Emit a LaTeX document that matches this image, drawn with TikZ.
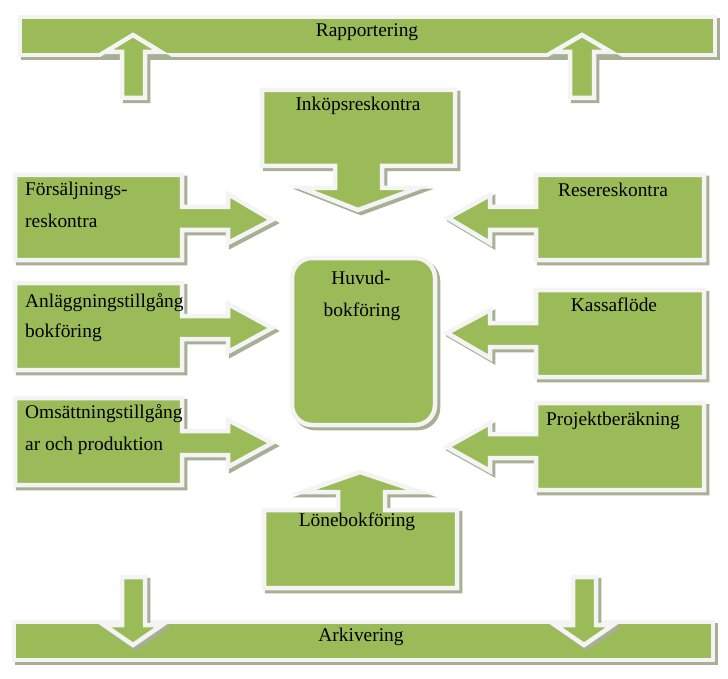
\documentclass[tikz,border=0pt]{standalone}
\usepackage{fontspec}
\setmainfont{Liberation Serif}
\definecolor{grn}{RGB}{155,187,89}
\definecolor{shadowgray}{RGB}{168,175,148}
\definecolor{edgewhite}{RGB}{244,244,244}
\newcommand\gshape[2][]{\path[shdw,#1] #2; \path[shp,#1] #2;}
\begin{document}
\begin{tikzpicture}[x=1pt,y=-1pt,
 shp/.style={fill=grn,draw=edgewhite,line width=4.5pt,line join=miter,miter limit=10},
 shdw/.style={fill=shadowgray,draw=shadowgray,line width=4.5pt,line join=miter,miter limit=10,shift={(3,3)}},
 lbl/.style={font=\fontsize{19.4}{23}\selectfont,inner sep=0pt,text=black,yshift=-3.5pt}]
\useasboundingbox[fill=white] (0,0) rectangle (728,679);

% top bar and up arrows
\gshape{(20,17) rectangle (715,55)}
\gshape{(122,98) -- (122,52) -- (105,52) -- (133,35) -- (161,52) -- (145,52) -- (145,98) -- cycle}
\gshape{(570,98) -- (570,52) -- (553,52) -- (582,35) -- (611,52) -- (594,52) -- (594,98) -- cycle}
\node[lbl,anchor=mid] (rap) at (367,31) {Rapportering};

% Inköpsreskontra
\gshape{(262,90) -- (455,90) -- (455,166) -- (382,166) -- (382,188) -- (418,188) -- (358,210) -- (302,188) -- (335,188) -- (335,166) -- (262,166) -- cycle}
\node[lbl,anchor=mid] (ink) at (358,105) {Inköpsreskontra};

% left callouts
\gshape{(15,175) -- (182,175) -- (182,207) -- (228,207) -- (228,194) -- (272,220) -- (228,243) -- (228,230) -- (182,230) -- (182,260) -- (15,260) -- cycle}
\node[lbl,anchor=mid west] (fors1) at (25,190) {Försäljnings-};
\node[lbl,anchor=mid west] (fors2) at (25,222) {reskontra};

\gshape{(15,283) -- (182,283) -- (182,316) -- (228,316) -- (228,304) -- (272,328) -- (228,352) -- (228,339) -- (182,339) -- (182,370) -- (15,370) -- cycle}
\node[lbl,anchor=mid west] (anl1) at (25,302) {Anläggningstillgång};
\node[lbl,anchor=mid west] (anl2) at (25,332) {bokföring};

\gshape{(15,398) -- (182,398) -- (182,431) -- (228,431) -- (228,420) -- (272,443) -- (228,467) -- (228,455) -- (182,455) -- (182,485) -- (15,485) -- cycle}
\node[lbl,anchor=mid west] (oms1) at (25,413) {Omsättningstillgång};
\node[lbl,anchor=mid west] (oms2) at (25,445) {ar och produktion};

% right callouts
\gshape{(704,175) -- (536,175) -- (536,207) -- (490,207) -- (490,195) -- (448,218) -- (490,243) -- (490,230) -- (536,230) -- (536,260) -- (704,260) -- cycle}
\node[lbl,anchor=mid] (res) at (613,191) {Resereskontra};

\gshape{(704,290) -- (536,290) -- (536,323) -- (490,323) -- (490,310) -- (447,333) -- (490,358) -- (490,347) -- (536,347) -- (536,377) -- (704,377) -- cycle}
\node[lbl,anchor=mid] (kas) at (614,306) {Kassaflöde};

\gshape{(704,403) -- (536,403) -- (536,434) -- (490,434) -- (490,423) -- (447,447) -- (490,471) -- (490,458) -- (536,458) -- (536,490) -- (704,490) -- cycle}
\node[lbl,anchor=mid] (pro) at (613,420) {Projektberäkning};

% center
\gshape{[rounded corners=20pt] (292,258) rectangle (435,425)}
\node[lbl,anchor=mid] (huv1) at (361,279) {Huvud-};
\node[lbl,anchor=mid] (huv2) at (362,311) {bokföring};

% Lönebokföring
\gshape{(264,510) -- (338,510) -- (338,492) -- (303,492) -- (360,472) -- (420,492) -- (385,492) -- (385,510) -- (457,510) -- (457,588) -- (264,588) -- cycle}
\node[lbl,anchor=mid] (lon) at (357,521) {Lönebokföring};

% bottom bar and down arrows
\gshape{(14,622) rectangle (713,660)}
\gshape{(122,577) -- (145,577) -- (145,625) -- (162,625) -- (133,645) -- (104,625) -- (122,625) -- cycle}
\gshape{(573,577) -- (596,577) -- (596,625) -- (613,625) -- (584,645) -- (555,625) -- (573,625) -- cycle}
\node[lbl,anchor=mid] (ark) at (361,636) {Arkivering};
\end{tikzpicture}
\end{document}
